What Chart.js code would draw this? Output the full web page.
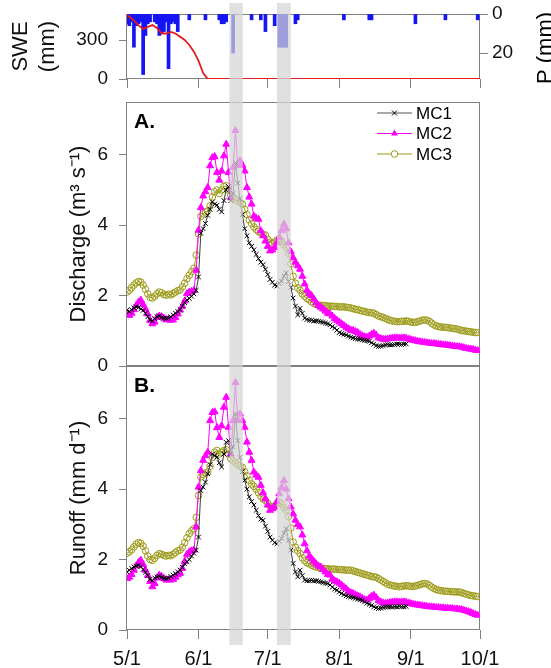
<!DOCTYPE html>
<html>
<head>
<meta charset="utf-8">
<script src="https://cdn.jsdelivr.net/npm/chart.js@4.4.0/dist/chart.umd.min.js"></script>
<style>
  body { margin: 0; background: #fff; }
  #wrap { position: relative; width: 551px; height: 668px; }
  canvas { position: absolute; left: 0; }
</style>
</head>
<body>
<div id="wrap">
  <canvas id="swe" width="551" height="92" style="top:0px"></canvas>
  <canvas id="discharge" width="551" height="280" style="top:92px"></canvas>
  <canvas id="runoff" width="551" height="308" style="top:360px"></canvas>
</div>
<script>
// x values are days since 5/1
var tickDays = [0, 31, 61, 92, 123, 153];
var tickLabels = ['5/1', '6/1', '7/1', '8/1', '9/1', '10/1'];
var bandStart = [44.4, 65];
var bandEnd = [50.2, 71];

var sweDay = [0, 3, 5, 7, 9, 11, 13, 15, 17, 19, 21, 23, 25, 27, 29, 31, 33, 35, 153];
var sweMm = [492, 450, 412, 385, 400, 415, 392, 350, 350, 362, 350, 325, 300, 262, 210, 140, 45, 0, 0];

var precipDay = [0, 1, 2, 3, 4, 5, 6, 7, 8, 9, 10, 12, 13, 14, 15, 16, 17, 18, 19, 20, 21, 22, 27, 34,
  40, 41, 42, 43, 46, 54, 58, 60, 64, 66, 67, 68, 69, 73, 74, 94, 105, 106, 125, 138, 152];
var precipMm = [5, 6, 4, 17, 6, 5, 4, 31, 11, 5, 4, 4, 5, 11, 10, 9, 4, 28, 5, 4, 5, 9, 3, 3,
  3, 5, 5, 4, 20, 3, 3, 9, 6, 17, 17, 17, 17, 5, 3, 3, 3, 3, 5, 3, 3];

var dischargeMC1 = [1.59,1.55,1.60,1.65,1.68,1.66,1.62,1.58,1.50,1.40,
  1.31,1.28,1.35,1.40,1.42,1.38,1.36,1.35,1.36,1.40,
  1.45,1.50,1.55,1.60,1.70,1.80,1.88,1.92,1.98,2.05,
  2.15,2.53,3.77,3.90,4.05,4.28,4.45,4.66,4.60,4.57,
  4.45,4.38,4.70,5.00,5.10,4.70,4.90,5.78,5.20,4.75,
  4.30,3.90,3.70,3.50,3.40,3.30,3.17,3.05,2.95,2.88,
  2.75,2.60,2.46,2.38,2.30,2.27,2.35,2.41,2.55,2.65,
  2.40,2.23,1.93,1.70,1.45,1.64,1.50,1.36,1.32,1.30,
  1.30,1.28,1.28,1.27,1.26,1.24,1.22,1.20,1.17,1.12,
  1.08,1.02,0.95,0.92,0.90,0.88,0.85,0.82,0.80,0.78,
  0.77,0.76,0.74,0.73,0.72,0.70,0.66,0.62,0.58,0.56,
  0.56,0.58,0.60,0.61,0.60,0.60,0.61,0.62,0.62,0.61,0.62,0.63];
var dischargeMC2 = [1.45,1.44,1.50,1.60,1.72,1.82,1.87,1.75,1.62,1.48,
  1.30,1.20,1.25,1.38,1.42,1.40,1.36,1.31,1.33,1.30,
  1.31,1.38,1.48,1.59,1.70,1.85,2.06,2.10,2.12,2.15,
  2.72,3.86,4.50,4.83,4.95,5.07,5.69,5.92,5.95,5.50,
  5.28,5.54,5.97,6.30,5.50,4.78,5.64,6.69,5.70,5.83,
  5.70,5.54,5.07,4.80,4.60,4.26,4.20,4.17,3.84,3.70,
  3.55,3.40,3.27,3.30,3.37,3.50,3.65,3.85,4.03,3.90,
  3.50,3.25,3.08,2.95,2.85,2.75,2.55,2.33,2.15,2.05,
  2.00,1.90,1.80,1.72,1.67,1.62,1.56,1.50,1.48,1.42,
  1.35,1.30,1.25,1.20,1.15,1.10,1.06,1.02,1.01,0.98,
  0.95,0.90,0.86,0.83,0.82,0.85,0.90,0.93,0.88,0.80,
  0.78,0.76,0.76,0.77,0.78,0.79,0.80,0.80,0.79,0.80,
  0.80,0.79,0.77,0.75,0.73,0.72,0.70,0.69,0.68,0.67,
  0.66,0.65,0.64,0.64,0.63,0.62,0.61,0.60,0.60,0.59,
  0.58,0.57,0.56,0.55,0.55,0.54,0.52,0.50,0.49,0.48,
  0.47,0.45,0.44];
var dischargeMC3 = [2.10,2.15,2.22,2.30,2.36,2.40,2.38,2.30,2.18,2.05,
  1.95,1.93,1.98,2.05,2.10,2.08,2.03,2.01,2.04,2.02,
  2.06,2.10,2.14,2.16,2.25,2.35,2.48,2.58,2.68,2.78,
  3.15,3.75,4.25,4.32,4.38,4.40,4.55,4.80,4.95,5.00,
  4.90,5.00,5.10,5.12,5.00,4.85,4.78,4.72,4.68,4.65,
  4.60,4.45,4.30,4.15,4.05,3.95,3.88,3.82,3.78,3.74,
  3.72,3.60,3.52,3.48,3.52,3.58,3.60,3.55,3.45,3.38,
  3.20,2.90,2.55,2.35,2.22,2.15,2.05,1.98,1.92,1.88,
  1.82,1.78,1.75,1.73,1.72,1.72,1.71,1.70,1.70,1.70,
  1.69,1.69,1.68,1.68,1.68,1.67,1.66,1.65,1.63,1.61,
  1.60,1.58,1.56,1.55,1.53,1.52,1.51,1.50,1.46,1.42,
  1.40,1.38,1.35,1.32,1.30,1.28,1.27,1.26,1.26,1.27,
  1.27,1.28,1.27,1.25,1.24,1.24,1.26,1.28,1.30,1.31,
  1.30,1.27,1.22,1.17,1.14,1.12,1.11,1.10,1.10,1.09,
  1.08,1.07,1.06,1.05,1.03,1.01,1.00,0.99,0.98,0.97,
  0.96,0.95,0.95];

var runoffMC1 = [1.65,1.70,1.75,1.79,1.82,1.84,1.80,1.72,1.64,1.55,
  1.44,1.40,1.48,1.51,1.53,1.50,1.47,1.46,1.48,1.52,
  1.56,1.60,1.65,1.70,1.78,1.88,1.94,2.00,2.10,2.18,
  2.27,2.64,3.96,4.06,4.20,4.44,4.70,5.00,4.95,4.91,
  4.75,4.63,5.00,5.33,5.38,5.00,5.20,6.14,5.38,4.90,
  4.50,4.25,4.00,3.78,3.65,3.55,3.40,3.25,3.15,3.12,
  2.95,2.80,2.64,2.55,2.48,2.45,2.52,2.60,2.75,2.88,
  2.55,2.27,1.89,1.65,1.51,1.70,1.55,1.42,1.40,1.40,
  1.41,1.40,1.40,1.38,1.37,1.35,1.33,1.32,1.28,1.22,
  1.16,1.13,1.08,1.04,1.00,0.97,0.95,0.94,0.92,0.90,
  0.88,0.86,0.84,0.80,0.76,0.73,0.70,0.66,0.63,0.61,
  0.62,0.64,0.65,0.66,0.66,0.65,0.66,0.66,0.67,0.66,0.66,0.67];
var runoffMC2 = [1.46,1.50,1.58,1.70,1.82,1.92,1.98,1.86,1.70,1.55,
  1.38,1.23,1.32,1.48,1.56,1.52,1.46,1.42,1.43,1.42,
  1.44,1.50,1.57,1.61,1.75,1.95,2.15,2.22,2.25,2.27,
  2.93,4.06,4.53,4.82,4.95,5.05,5.95,6.18,6.20,5.75,
  5.47,5.80,6.33,6.61,5.76,5.00,5.95,7.03,5.95,6.14,
  5.95,5.76,5.34,5.05,4.82,4.49,4.40,4.34,4.11,3.90,
  3.73,3.55,3.40,3.45,3.49,3.65,3.87,4.05,4.25,4.00,
  3.73,3.50,3.30,3.12,3.00,2.93,2.70,2.45,2.25,2.10,
  2.03,1.95,1.88,1.82,1.79,1.72,1.65,1.58,1.56,1.45,
  1.40,1.37,1.33,1.28,1.22,1.17,1.10,1.06,1.04,1.00,
  0.97,0.94,0.90,0.86,0.85,0.90,0.96,0.99,0.92,0.84,
  0.80,0.77,0.76,0.77,0.78,0.79,0.80,0.80,0.79,0.80,
  0.80,0.79,0.77,0.75,0.73,0.72,0.71,0.70,0.69,0.68,
  0.67,0.66,0.66,0.65,0.64,0.64,0.63,0.63,0.62,0.62,
  0.61,0.61,0.60,0.60,0.59,0.58,0.56,0.54,0.52,0.50,
  0.47,0.44,0.42];
var runoffMC3 = [2.18,2.22,2.28,2.36,2.44,2.48,2.46,2.38,2.25,2.10,
  2.00,1.98,2.04,2.12,2.17,2.15,2.12,2.10,2.12,2.11,
  2.15,2.20,2.25,2.27,2.35,2.48,2.62,2.74,2.82,2.88,
  3.20,3.82,4.35,4.42,4.46,4.49,4.65,4.90,5.05,5.10,
  5.00,5.05,5.10,5.12,5.00,4.86,4.80,4.75,4.70,4.66,
  4.62,4.50,4.38,4.25,4.15,4.08,4.00,3.90,3.80,3.72,
  3.68,3.60,3.52,3.49,3.52,3.58,3.63,3.58,3.48,3.40,
  3.22,2.90,2.50,2.35,2.25,2.17,2.05,1.97,1.91,1.88,
  1.84,1.81,1.79,1.77,1.75,1.75,1.74,1.74,1.73,1.73,
  1.73,1.72,1.72,1.71,1.71,1.70,1.70,1.70,1.68,1.66,
  1.64,1.62,1.60,1.58,1.56,1.54,1.52,1.51,1.50,1.46,
  1.42,1.38,1.34,1.30,1.28,1.26,1.25,1.24,1.23,1.24,
  1.25,1.26,1.25,1.24,1.24,1.25,1.27,1.29,1.31,1.32,
  1.31,1.27,1.22,1.18,1.15,1.13,1.12,1.11,1.10,1.10,
  1.09,1.09,1.08,1.08,1.08,1.06,1.04,1.02,1.00,0.98,
  0.97,0.96,0.95];

var seriesNames = ['MC1', 'MC2', 'MC3'];
var seriesColors = ['#3a3a3a', '#ff00ff', '#9c9a18'];
var seriesStyles = ['crossRot', 'triangle', 'circle'];

var FONT = "'Liberation Sans', Arial, sans-serif";
var AXIS = '#808080';

function pts(vals) {
  return vals.map(function(v, i) { return { x: i, y: v }; });
}

function series(i, vals) {
  return {
    label: seriesNames[i], data: pts(vals),
    borderColor: seriesColors[i], borderWidth: 1,
    pointStyle: seriesStyles[i], pointRadius: i === 1 ? 4 : 3.3,
    pointBorderColor: i === 0 ? '#000' : seriesColors[i], pointBorderWidth: 1,
    pointBackgroundColor: i === 2 ? 'rgba(255,255,255,0)' : seriesColors[i],
    tension: 0
  };
}

function marker(ctx, style, x, y, color) {
  ctx.strokeStyle = color; ctx.fillStyle = color; ctx.lineWidth = 1;
  ctx.beginPath();
  if (style === 'crossRot') {
    ctx.moveTo(x - 2.5, y - 2.5); ctx.lineTo(x + 2.5, y + 2.5);
    ctx.moveTo(x + 2.5, y - 2.5); ctx.lineTo(x - 2.5, y + 2.5);
    ctx.stroke();
  } else if (style === 'triangle') {
    ctx.moveTo(x, y - 4); ctx.lineTo(x + 3.5, y + 2); ctx.lineTo(x - 3.5, y + 2);
    ctx.closePath(); ctx.fill();
  } else {
    ctx.arc(x, y, 3.3, 0, Math.PI * 2); ctx.fillStyle = '#fff'; ctx.fill(); ctx.stroke();
  }
}

// box under the data; grey event bands, panel letter, legend, right title over it
var decor = {
  id: 'decor',
  beforeDatasetsDraw: function(chart) {
    var ctx = chart.ctx, a = chart.chartArea;
    ctx.save();
    ctx.strokeStyle = AXIS; ctx.lineWidth = 1;
    ctx.strokeRect(Math.round(a.left) - 0.5, Math.round(a.top) + 0.5,
      Math.round(a.right - a.left), Math.round(a.bottom - a.top) - 1);
    ctx.restore();
  },
  afterDatasetsDraw: function(chart, args, o) {
    var ctx = chart.ctx, a = chart.chartArea, xs = chart.scales.x;
    ctx.save();
    ctx.fillStyle = 'rgba(212,212,212,0.72)';
    for (var i = 0; i < bandStart.length; i++) {
      var x0 = xs.getPixelForValue(bandStart[i]), x1 = xs.getPixelForValue(bandEnd[i]);
      ctx.fillRect(x0, o.bandTop, x1 - x0, o.bandBottom - o.bandTop);
    }
    ctx.fillStyle = '#000';
    if (o.letter) {
      ctx.font = 'bold 21px ' + FONT; ctx.textAlign = 'left'; ctx.textBaseline = 'middle';
      ctx.fillText(o.letter, a.left + 7, a.top + 20);
    }
    if (o.legend) {
      for (var k = 0; k < seriesNames.length; k++) {
        var y = a.top + 11 + k * 20.5;
        ctx.strokeStyle = k === 0 ? '#555' : seriesColors[k]; ctx.lineWidth = 1.2;
        ctx.beginPath(); ctx.moveTo(377, y); ctx.lineTo(412, y); ctx.stroke();
        marker(ctx, seriesStyles[k], 394.5, y, k === 0 ? '#000' : seriesColors[k]);
        ctx.fillStyle = '#000'; ctx.font = '17px ' + FONT;
        ctx.textAlign = 'left'; ctx.textBaseline = 'middle';
        ctx.fillText(seriesNames[k], 416, y + 1);
      }
    }
    if (o.rightTitle) {
      ctx.translate(546, 48); ctx.rotate(-Math.PI / 2);
      ctx.fillStyle = '#000'; ctx.font = '22px ' + FONT;
      ctx.textAlign = 'center'; ctx.textBaseline = 'middle';
      ctx.fillText(o.rightTitle, 0, 0);
    }
    ctx.restore();
  }
};

function fixedTicks(list) {
  return function(scale) { scale.ticks = list.map(function(v) { return { value: v }; }); };
}

function yAxis(min, max, ticks, title, width) {
  return {
    position: 'left', min: min, max: max,
    afterBuildTicks: fixedTicks(ticks),
    afterFit: function(s) { s.width = width; s.paddingTop = 0; s.paddingBottom = 0; },
    ticks: { color: '#111', font: { family: FONT, size: 19 }, padding: 11 },
    grid: { drawOnChartArea: false, tickLength: 8, color: AXIS },
    border: { display: false },
    title: { display: true, text: title, color: '#111', font: { family: FONT, size: 22 }, padding: { top: 4, bottom: 4 } }
  };
}

function xAxis(showLabels, height) {
  return {
    type: 'linear', min: 0, max: 153, offset: false,
    display: height > 0,
    afterBuildTicks: fixedTicks(tickDays),
    afterFit: function(s) { s.height = height; s.paddingLeft = 0; s.paddingRight = 0; },
    ticks: {
      display: showLabels, color: '#111', font: { family: FONT, size: 20 }, padding: 8,
      maxRotation: 0, autoSkip: false,
      callback: function(v) { return tickLabels[tickDays.indexOf(v)]; }
    },
    grid: { drawOnChartArea: false, tickLength: 9, color: AXIS, offset: false },
    border: { display: false }
  };
}

// top panel: SWE line and inverted precipitation bars
new Chart(document.getElementById('swe'), {
  type: 'bar',
  data: {
    datasets: [
      { type: 'line', data: sweDay.map(function(d, i) { return { x: d, y: sweMm[i] }; }),
        borderColor: '#e31a1a', borderWidth: 1.8, pointRadius: 0, yAxisID: 'y', order: 0 },
      { type: 'bar', data: precipDay.map(function(d, i) { return { x: d, y: precipMm[i] }; }),
        backgroundColor: '#1414f5', barThickness: 3, grouped: false, yAxisID: 'p', order: 1 }
    ]
  },
  options: {
    responsive: false, animation: false,
    layout: { padding: { left: 4, top: 14, right: 0, bottom: 0 } },
    plugins: { legend: { display: false }, tooltip: { enabled: false },
      decor: { bandTop: 3, bandBottom: 92, rightTitle: 'P (mm)' } },
    scales: {
      x: xAxis(false, 13),
      y: yAxis(0, 500, [0, 300], ['SWE', '(mm)'], 123),
      p: {
        position: 'right', min: 0, max: 33.3, reverse: true,
        afterBuildTicks: fixedTicks([0, 20]),
        afterFit: function(s) { s.width = 71; s.paddingTop = 0; s.paddingBottom = 0; },
        ticks: { color: '#111', font: { family: FONT, size: 19 }, padding: 4 },
        grid: { drawOnChartArea: false, tickLength: 8, color: AXIS },
        border: { display: false }
      }
    }
  },
  plugins: [decor]
});

// panel A: discharge
new Chart(document.getElementById('discharge'), {
  type: 'line',
  data: { datasets: [series(0, dischargeMC1), series(1, dischargeMC2), series(2, dischargeMC3)] },
  options: {
    responsive: false, animation: false,
    layout: { padding: { left: 62, top: 10, right: 71, bottom: 6 } },
    plugins: { legend: { display: false }, tooltip: { enabled: false },
      decor: { bandTop: 0, bandBottom: 274, letter: 'A.', legend: true } },
    scales: {
      x: xAxis(false, 0),
      y: yAxis(0, 7.5, [0, 2, 4, 6], 'Discharge (m³ s⁻¹)', 65)
    }
  },
  plugins: [decor]
});

// panel B: runoff
new Chart(document.getElementById('runoff'), {
  type: 'line',
  data: { datasets: [series(0, runoffMC1), series(1, runoffMC2), series(2, runoffMC3)] },
  options: {
    responsive: false, animation: false,
    layout: { padding: { left: 62, top: 6, right: 71, bottom: 0 } },
    plugins: { legend: { display: false }, tooltip: { enabled: false },
      decor: { bandTop: 6, bandBottom: 285, letter: 'B.' } },
    scales: {
      x: xAxis(true, 38),
      y: yAxis(0, 7.5, [0, 2, 4, 6], 'Runoff (mm d⁻¹)', 65)
    }
  },
  plugins: [decor]
});
</script>
</body>
</html>
